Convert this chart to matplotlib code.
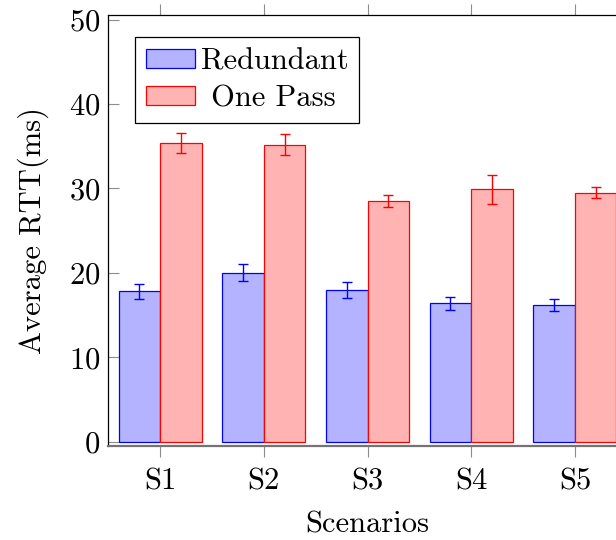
import matplotlib
matplotlib.use("Agg")
import matplotlib.pyplot as plt
import numpy as np

scenarios = ["S1", "S2", "S3", "S4", "S5"]
redundant = [17.8, 20.0, 18.0, 16.4, 16.2]
redundant_err = [0.9, 1.0, 0.93, 0.75, 0.75]
one_pass = [35.4, 35.2, 28.5, 29.9, 29.5]
one_pass_err = [1.2, 1.2, 0.75, 1.7, 0.65]

plt.rcParams["font.family"] = ["cmr10", "DejaVu Serif"]
plt.rcParams["axes.formatter.use_mathtext"] = True
plt.rcParams["mathtext.fontset"] = "cm"

fig = plt.figure(figsize=(6.16, 5.4), dpi=100)
ax = fig.add_axes([0.1758, 0.1746, 0.8416, 0.797])

x = np.arange(1, len(scenarios) + 1)
w = 0.4
fs = 22

ax.bar(x - w / 2, redundant, w, color=(0.7, 0.7, 1.0), edgecolor="blue",
       linewidth=0.9, label="Redundant", zorder=2)
ax.bar(x + w / 2, one_pass, w, color=(1.0, 0.7, 0.7), edgecolor="red",
       linewidth=0.9, label=" One Pass", zorder=2)
ax.errorbar(x - w / 2, redundant, yerr=redundant_err, fmt="none",
            ecolor="blue", elinewidth=1.0, capsize=3.6, capthick=1.0, zorder=3)
ax.errorbar(x + w / 2, one_pass, yerr=one_pass_err, fmt="none",
            ecolor="red", elinewidth=1.0, capsize=3.6, capthick=1.0, zorder=3)

ax.set_xlim(0.5, 5.5)
ax.set_ylim(-0.47, 50.5)
ax.set_xticks(x)
ax.set_xticklabels(scenarios)
ax.set_yticks([0, 10, 20, 30, 40, 50])

ax.tick_params(axis="x", direction="out", length=8, width=0.8, color="0.55",
               top=True, labelsize=fs, pad=8)
ax.tick_params(axis="y", direction="in", length=8, width=0.8, color="0.55",
               right=True, labelsize=fs, pad=6)

for side in ["left", "top", "right"]:
    ax.spines[side].set_linewidth(0.9)
    ax.spines[side].set_color("black")
ax.spines["bottom"].set_linewidth(1.6)
ax.spines["bottom"].set_color("0.45")

ax.set_xlabel("Scenarios", fontsize=fs, labelpad=11)
ax.set_ylabel("Average RTT(ms)", fontsize=fs, labelpad=14)

leg = ax.legend(loc="upper left", bbox_to_anchor=(0.0515, 0.9496),
                borderaxespad=0, fontsize=fs, fancybox=False, framealpha=1,
                edgecolor="black", handlelength=1.6, handleheight=0.55,
                handletextpad=0.2, borderpad=0.35, labelspacing=0.32)
leg.get_frame().set_linewidth(0.9)

fig.savefig("out.png", dpi=100)
